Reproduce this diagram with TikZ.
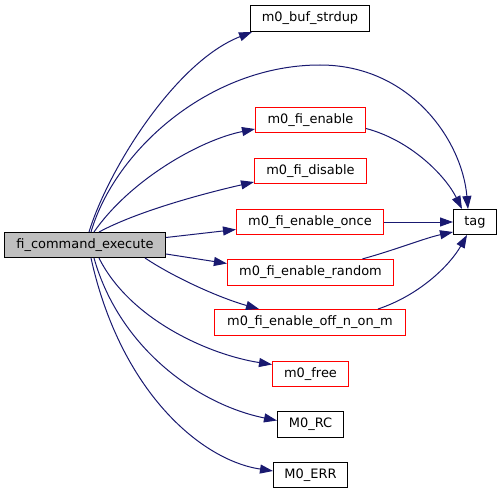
\documentclass[tikz,border=0pt]{standalone}
\usepackage{fontspec}
\setmainfont{DejaVu Sans}
\usetikzlibrary{arrows.meta}
\definecolor{edgec}{HTML}{191970}
\definecolor{boxred}{HTML}{FF0000}
\definecolor{mainfill}{HTML}{BFBFBF}
\begin{document}
\begin{tikzpicture}[x=1bp,y=-1bp,
  box/.style={draw=black, line width=1bp, inner sep=0pt, minimum height=25bp, fill=white,
    font=\fontsize{13}{15}\selectfont},
  redbox/.style={box, draw=boxred},
  mainbox/.style={box, fill=mainfill},
  edge/.style={draw=edgec, line width=1bp, -{Triangle[length=13bp,width=9bp]}}]
\useasboundingbox (0,0) rectangle (501,493);
\node[mainbox, minimum width=161bp] (main) at (85,245) {fi\_command\_execute};
\node[box, minimum width=119bp, minimum height=26bp] (strdup) at (310,18.5) {m0\_buf\_strdup};
\node[redbox, minimum width=110bp] (enable) at (310.5,120) {m0\_fi\_enable};
\node[redbox, minimum width=112bp] (disable) at (310.5,171) {m0\_fi\_disable};
\node[redbox, minimum width=147bp] (once) at (310,222) {m0\_fi\_enable\_once};
\node[redbox, minimum width=166bp, minimum height=26bp, line width=1.2bp] (rnd) at (310.5,272.5) {m0\_fi\_enable\_random};
\node[redbox, minimum width=191bp, minimum height=26bp] (off) at (310,322.5) {m0\_fi\_enable\_off\_n\_on\_m};
\node[redbox, minimum width=76bp] (free) at (310.5,374) {m0\_free};
\node[box, minimum width=66bp, minimum height=26bp] (rc) at (310.5,424.5) {M0\_RC};
\node[box, minimum width=74bp] (err) at (310.5,475) {M0\_ERR};
\node[box, minimum width=43bp] (tag) at (475,222) {tag};

\path[edge] ([xshift=4bp]main.north) .. controls (108,170) and (175,62) .. ([xshift=2bp]strdup.south west);
\path[edge] ([xshift=6bp]main.north) .. controls (115,150) and (210,65) .. (320,65)
  .. controls (410,65) and (462,140) .. ([xshift=15bp]tag.north west);
\path[edge] ([xshift=9bp]main.north) .. controls (130,180) and (200,140) .. ([yshift=4bp]enable.south west);
\path[edge] ([xshift=14bp]main.north) .. controls (140,210) and (210,192) .. ([yshift=2bp]disable.south west);
\path[edge] ([yshift=7.5bp]main.east) -- ([yshift=-7.5bp]once.west);
\path[edge] ([yshift=-9bp]main.east) -- ([yshift=9bp]rnd.west);
\path[edge] ([xshift=60bp]main.south) .. controls (175,278) and (220,298) .. ([xshift=45bp]off.north west);
\path[edge] ([xshift=14bp]main.south) .. controls (130,320) and (210,355) .. ([yshift=9.5bp]free.west);
\path[edge] ([xshift=9bp]main.south) .. controls (120,350) and (200,405) .. ([yshift=4bp]rc.west);
\path[edge] ([xshift=6bp]main.south) .. controls (120,390) and (200,460) .. ([yshift=4bp]err.west);

\path[edge] ([yshift=-8.5bp]enable.east) .. controls (410,140) and (445,175) .. ([xshift=9bp]tag.north west);
\path[edge] (once.east) -- (tag.west);
\path[edge] ([xshift=52bp]rnd.north) .. controls (395,250) and (425,238) .. ([yshift=3bp]tag.south west);
\path[edge] ([xshift=68bp]off.north) .. controls (420,295) and (450,265) .. ([xshift=14bp]tag.south west);
\end{tikzpicture}
\end{document}
